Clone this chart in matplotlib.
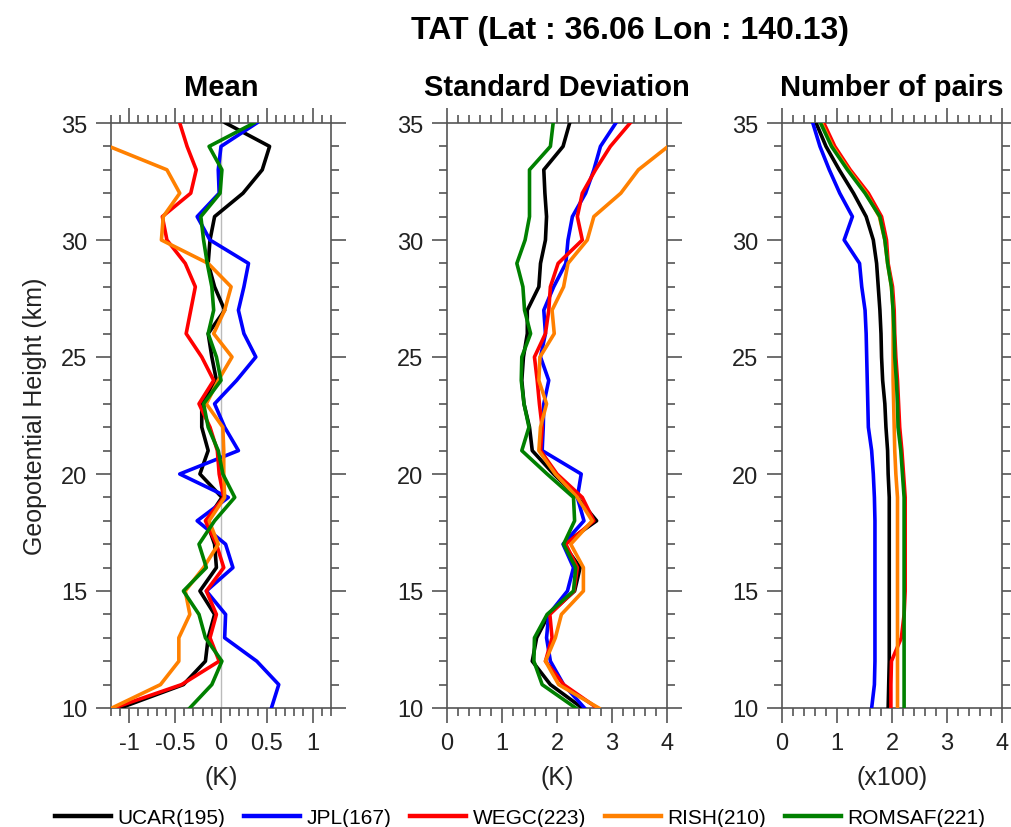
import numpy as np
import matplotlib
matplotlib.use("Agg")
import matplotlib.pyplot as plt
from matplotlib.ticker import MultipleLocator

# heights (km), top to bottom
height = np.arange(35, 9, -1)

names = ["UCAR(195)", "JPL(167)", "WEGC(223)", "RISH(210)", "ROMSAF(221)"]
colors = ["black", "#0000ff", "#ff0000", "#ff8000", "#008000"]

# Mean (K)
mean_ucar = [0.05, 0.53, 0.45, 0.24, -0.07, -0.12, -0.14, -0.07, 0.04, -0.14, -0.10, -0.05, -0.21,
             -0.21, -0.14, -0.23, 0.01, -0.16, -0.07, -0.05, -0.23, -0.07, -0.14, -0.17, -0.41, -1.10]
mean_jpl = [0.39, 0.0, -0.03, -0.02, -0.26, -0.12, 0.30, 0.25, 0.19, 0.25, 0.38, 0.17, -0.07,
            0.04, 0.19, -0.45, 0.08, -0.26, 0.05, 0.13, -0.16, 0.05, 0.04, 0.39, 0.63, 0.55]
mean_wegc = [-0.45, -0.37, -0.27, -0.33, -0.64, -0.59, -0.39, -0.28, -0.33, -0.38, -0.21, -0.08, -0.24,
             -0.12, -0.04, -0.02, 0.03, -0.17, -0.05, 0.03, -0.16, -0.05, -0.12, -0.02, -0.43, -1.17]
mean_rish = [-1.5, -1.22, -0.59, -0.45, -0.63, -0.65, -0.14, 0.11, 0.04, -0.08, 0.12, -0.03, -0.16,
             0.02, 0.03, 0.03, 0.04, -0.13, -0.03, -0.19, -0.39, -0.34, -0.46, -0.46, -0.66, -1.19]
mean_romsaf = [0.36, -0.13, 0.01, -0.01, -0.22, -0.19, -0.15, -0.10, -0.08, -0.14, -0.05, 0.0, -0.19,
               -0.14, -0.03, 0.02, 0.15, -0.07, -0.24, -0.16, -0.41, -0.24, -0.17, 0.01, -0.10, -0.34]

# Standard deviation (K)
std_ucar = [2.23, 2.11, 1.76, 1.78, 1.81, 1.79, 1.70, 1.67, 1.46, 1.46, 1.39, 1.36, 1.40,
            1.50, 1.55, 1.94, 2.37, 2.72, 2.12, 2.42, 2.32, 1.85, 1.63, 1.55, 1.88, 2.46]
std_jpl = [3.07, 2.79, 2.67, 2.52, 2.28, 2.20, 2.16, 1.94, 1.76, 1.79, 1.70, 1.85, 1.76,
           1.75, 1.73, 2.44, 2.37, 2.49, 2.11, 2.30, 2.19, 1.85, 1.81, 1.88, 2.12, 2.50]
std_wegc = [3.33, 2.97, 2.70, 2.46, 2.37, 2.46, 2.02, 1.88, 1.85, 1.79, 1.59, 1.64, 1.68,
            1.73, 1.70, 2.00, 2.46, 2.67, 2.16, 2.37, 2.31, 1.87, 1.91, 1.79, 2.12, 2.73]
std_rish = [4.6, 4.02, 3.48, 3.16, 2.67, 2.55, 2.20, 2.12, 1.91, 1.95, 1.69, 1.67, 1.81,
            1.70, 1.67, 1.97, 2.37, 2.64, 2.25, 2.48, 2.48, 2.08, 1.97, 1.79, 2.03, 2.76]
std_romsaf = [1.93, 1.88, 1.50, 1.50, 1.50, 1.42, 1.27, 1.38, 1.41, 1.52, 1.36, 1.35, 1.40,
              1.49, 1.36, 1.82, 2.30, 2.32, 2.12, 2.34, 2.30, 1.82, 1.59, 1.58, 1.73, 2.34]

# Number of pairs (x100)
num_ucar = [0.62, 0.80, 1.04, 1.30, 1.53, 1.66, 1.72, 1.75, 1.78, 1.80, 1.81, 1.83, 1.87,
            1.89, 1.92, 1.93, 1.95, 1.95, 1.95, 1.95, 1.95, 1.95, 1.95, 1.95, 1.94, 1.93]
num_jpl = [0.56, 0.69, 0.86, 1.05, 1.28, 1.13, 1.41, 1.45, 1.51, 1.53, 1.54, 1.55, 1.56,
           1.57, 1.63, 1.66, 1.68, 1.69, 1.69, 1.69, 1.69, 1.69, 1.69, 1.69, 1.68, 1.63]
num_wegc = [0.76, 0.96, 1.24, 1.57, 1.81, 1.90, 1.93, 2.01, 2.04, 2.05, 2.07, 2.10, 2.12,
            2.14, 2.18, 2.21, 2.24, 2.24, 2.24, 2.24, 2.24, 2.22, 2.17, 1.99, 1.98, 1.98]
num_rish = [0.72, 0.92, 1.21, 1.53, 1.77, 1.87, 1.92, 1.99, 2.02, 2.02, 2.02, 2.02, 2.03,
            2.04, 2.05, 2.07, 2.10, 2.10, 2.10, 2.10, 2.10, 2.10, 2.10, 2.10, 2.10, 2.10]
num_romsaf = [0.70, 0.90, 1.19, 1.51, 1.78, 1.87, 1.92, 1.99, 2.02, 2.04, 2.05, 2.08, 2.10,
              2.11, 2.16, 2.19, 2.22, 2.22, 2.22, 2.22, 2.22, 2.22, 2.22, 2.22, 2.22, 2.22]

mean_all = [mean_ucar, mean_jpl, mean_wegc, mean_rish, mean_romsaf]
std_all = [std_ucar, std_jpl, std_wegc, std_rish, std_romsaf]
num_all = [num_ucar, num_jpl, num_wegc, num_rish, num_romsaf]

plain = ["Liberation Sans", "DejaVu Sans"]
axcol = "#555555"

fig = plt.figure(figsize=(10.12, 8.28), dpi=100)

lefts = [111 / 1012, 447 / 1012, 782 / 1012]
w = 220 / 1012
b = 119 / 828
h = 585 / 828

panels = [
    ("Mean", mean_all, (-1.2, 1.2), 0.5, 0.1, "(K)"),
    ("Standard Deviation", std_all, (0, 4), 1, 0.2, "(K)"),
    ("Number of pairs", num_all, (0, 4), 1, 0.2, "(x100)"),
]

lines = []
for i, (title, data, xlim, major, minor, xlabel) in enumerate(panels):
    ax = fig.add_axes([lefts[i], b, w, h])
    if i == 0:
        ax.axvline(0, color="#bbbbbb", lw=1, zorder=1)
    for vals, c in zip(data, colors):
        ln, = ax.plot(vals, height, color=c, lw=2.6, zorder=3)
        if i == 0:
            lines.append(ln)
    ax.set_xlim(*xlim)
    ax.set_ylim(10, 35)
    ax.xaxis.set_major_locator(MultipleLocator(major))
    ax.xaxis.set_minor_locator(MultipleLocator(minor))
    ax.yaxis.set_major_locator(MultipleLocator(5))
    ax.yaxis.set_minor_locator(MultipleLocator(1))
    ax.tick_params(which="both", direction="out", top=True, right=True, color=axcol,
                   width=1.2, labelsize=17, labelcolor="#222222")
    ax.tick_params(which="major", length=11, pad=6)
    ax.tick_params(which="minor", length=6)
    if i == 0:
        ax.set_xticks([-1, -0.5, 0, 0.5, 1])
        ax.set_xticklabels(["-1", "-0.5", "0", "0.5", "1"])
    for lab in ax.get_xticklabels() + ax.get_yticklabels():
        lab.set_family(plain)
    for s in ax.spines.values():
        s.set_color(axcol)
        s.set_linewidth(1.2)
    ax.set_title(title, fontsize=21, fontweight="bold", family=plain, pad=20)
    ax.set_xlabel(xlabel, fontsize=18, family=plain, color="#222222", labelpad=8)
    if i == 0:
        ax.set_ylabel("Geopotential Height (km)", fontsize=18, family=plain,
                      color="#222222", labelpad=10)

fig.text(0.623, 0.963, "TAT (Lat : 36.06 Lon : 140.13)", ha="center", va="center",
         fontsize=23, fontweight="bold", family=plain)

leg = fig.legend(lines, names, loc="center", bbox_to_anchor=(0.514, 0.011), ncol=5,
                 frameon=False, handlelength=2.7, columnspacing=0.9, handletextpad=0.3,
                 borderpad=0.2, prop={"family": plain, "size": 15})
for ln in leg.get_lines():
    ln.set_linewidth(3.2)

fig.savefig("out.png", dpi=100)
